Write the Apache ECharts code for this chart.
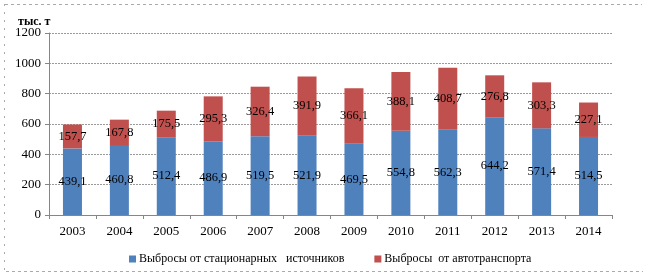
<!DOCTYPE html>
<html>
<head>
<meta charset="utf-8">
<script src="https://cdn.jsdelivr.net/npm/echarts@6/dist/echarts.min.js"></script>
<style>
html,body{margin:0;padding:0;background:#fff;}
#c{width:650px;height:278px;}
</style>
</head>
<body>
<div id="c"></div>
<script>
var years = ['2003','2004','2005','2006','2007','2008','2009','2010','2011','2012','2013','2014'];
var stationary = [439.1, 460.8, 512.4, 486.9, 519.5, 521.9, 469.5, 554.8, 562.3, 644.2, 571.4, 514.5];
var transport = [157.7, 167.8, 175.5, 295.3, 326.4, 391.9, 366.1, 388.1, 408.7, 276.8, 303.3, 227.1];
var seriesNames = ['Выбросы от стационарных   источников', 'Выбросы  от автотранспорта'];
var unitLabel = 'тыс. т';

var font = 'Liberation Serif';
function fmt(p){ return p.value.toFixed(1).replace('.', ','); }

var chart = echarts.init(document.getElementById('c'), null, {renderer:'canvas'});
chart.setOption({
  animation: false,
  backgroundColor: '#fff',
  textStyle: {fontFamily: font},
  title: {
    text: unitLabel, left: 13, top: 11,
    textStyle: {fontFamily: font, fontSize: 12, fontWeight: 'bold', color: '#000'}
  },
  grid: {left: 49, right: 38, top: 33, bottom: 63, containLabel: false},
  legend: {
    left: 124, top: 248, itemWidth: 7, itemHeight: 7, itemGap: 30,
    icon: 'rect',
    textStyle: {fontFamily: font, fontSize: 12, color: '#000', padding: [0,0,0,-2]},
    data: seriesNames
  },
  xAxis: {
    type: 'category', data: years,
    axisLine: {lineStyle: {color: '#868686'}},
    axisTick: {show: true, length: 4, lineStyle: {color: '#868686'}},
    axisLabel: {fontFamily: font, fontSize: 13, color: '#000', margin: 10}
  },
  yAxis: {
    type: 'value', min: 0, max: 1200, interval: 200,
    axisLine: {show: true, lineStyle: {color: '#868686'}},
    axisTick: {show: true, length: 4, lineStyle: {color: '#868686'}},
    axisLabel: {fontFamily: font, fontSize: 13, color: '#000', margin: 8, formatter: function(v){ return String(v); }},
    splitLine: {lineStyle: {color: '#9a9a9a', type: [2, 1], width: 1}}
  },
  series: [
    {
      name: seriesNames[0], type: 'bar', stack: 'a', data: stationary, barWidth: 19,
      itemStyle: {color: '#4F81BD'},
      label: {show: true, position: 'inside', formatter: fmt, fontFamily: font, fontSize: 12.5, color: '#000'}
    },
    {
      name: seriesNames[1], type: 'bar', stack: 'a', data: transport, barWidth: 19,
      itemStyle: {color: '#C0504D'},
      label: {show: true, position: 'inside', formatter: fmt, fontFamily: font, fontSize: 12.5, color: '#000'}
    }
  ],
  graphic: [
    {type: 'line', shape: {x1: 5, y1: 4.5, x2: 642, y2: 4.5}, style: {stroke: '#aaa', lineWidth: 1, lineDash: [3, 3]}},
    {type: 'line', shape: {x1: 4.5, y1: 4, x2: 4.5, y2: 271}, style: {stroke: '#aaa', lineWidth: 1, lineDash: [2, 6]}},
    {type: 'line', shape: {x1: 6, y1: 271.5, x2: 643, y2: 271.5}, style: {stroke: '#aaa', lineWidth: 1, lineDash: [3, 3]}}
  ]
});
</script>
</body>
</html>
